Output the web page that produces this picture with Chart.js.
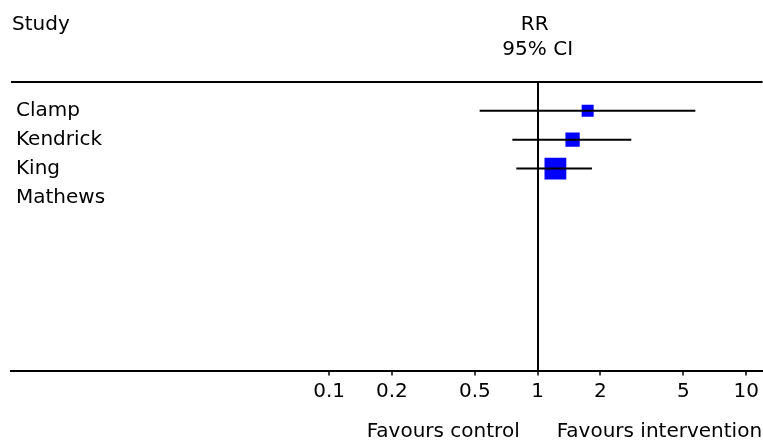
<!DOCTYPE html>
<html><head><meta charset="utf-8">
<script src="https://cdn.jsdelivr.net/npm/chart.js@4/dist/chart.umd.min.js"></script>
<style>html,body{margin:0;padding:0;background:#fff;}canvas{display:block;}</style>
</head><body>
<canvas id="c" width="763" height="443"></canvas>
<script>
// ---- data ----
const studies = ['Clamp', 'Kendrick', 'King', 'Mathews'];
const rr = [1.736, 1.47, 1.216, null];
const ciLow = [0.527, 0.756, 0.79, null];
const ciHigh = [5.70, 2.81, 1.82, null];
const weights = [17.5, 24.8, 57.7, null];
const xTicks = [0.1, 0.2, 0.5, 1, 2, 5, 10];
const xTickLabels = ['0.1', '0.2', '0.5', '1', '2', '5', '10'];
const headerStudy = 'Study';
const headerEffect = ['RR', '95% CI'];
const favourLeft = 'Favours control';
const favourRight = 'Favours intervention';
const rowSlots = 10;

// ---- build ----
const FONT = '"DejaVu Sans", sans-serif';
const rows = studies.map((s, i) => i + 1);
const ciDatasets = [];
studies.forEach((s, i) => {
  if (rr[i] == null) return;
  ciDatasets.push({
    type: 'scatter', label: s + ' CI', showLine: true,
    data: [{x: ciLow[i], y: rows[i]}, {x: ciHigh[i], y: rows[i]}],
    borderColor: '#000', borderWidth: 2, pointRadius: 0, order: 0
  });
});
const ptIdx = studies.map((s, i) => i).filter(i => rr[i] != null);
const boxRadius = ptIdx.map(i => 2.87 * Math.sqrt(weights[i]) / Math.SQRT2);
const pointDataset = {
  type: 'scatter', label: 'RR',
  data: ptIdx.map(i => ({x: rr[i], y: rows[i]})),
  pointStyle: 'rect',
  pointRadius: boxRadius,
  pointHoverRadius: boxRadius,
  backgroundColor: '#0000ff', borderWidth: 0, order: 1
};

const headerPlugin = {
  id: 'headers',
  afterDraw(chart) {
    const ctx = chart.ctx;
    const x1 = chart.scales.x.getPixelForValue(1);
    ctx.save();
    ctx.fillStyle = '#000';
    ctx.font = '20px ' + FONT;
    ctx.textBaseline = 'alphabetic';
    ctx.textAlign = 'left';
    ctx.fillText(headerStudy, 12, 29.5);
    ctx.textAlign = 'center';
    ctx.fillText(headerEffect[0], x1 - 3, 29.5);
    ctx.fillText(headerEffect[1], x1, 54.5);
    ctx.textAlign = 'right';
    ctx.fillText(favourLeft, x1 - 18, 437);
    ctx.textAlign = 'left';
    ctx.fillText(favourRight, x1 + 19, 437);
    ctx.restore();
  }
};

new Chart(document.getElementById('c'), {
  type: 'scatter',
  data: {datasets: [...ciDatasets, pointDataset]},
  options: {
    responsive: false, animation: false, devicePixelRatio: 1,
    layout: {padding: {top: 82, left: 1, right: 0, bottom: 35.5}, autoPadding: false},
    plugins: {legend: {display: false}, tooltip: {enabled: false}},
    events: [],
    scales: {
      x: {
        type: 'logarithmic', min: 0.002985, max: 11.97,
        afterBuildTicks: s => { s.ticks = xTicks.map(v => ({value: v})); },
        ticks: {
          callback: v => { const k = xTicks.indexOf(v); return k >= 0 ? xTickLabels[k] : ''; },
          autoSkip: false, maxRotation: 0, minRotation: 0,
          color: '#000', font: {family: FONT, size: 20}, padding: 4
        },
        grid: {
          color: c => (c.tick && c.tick.value === 1) ? '#000' : 'rgba(0,0,0,0)',
          lineWidth: 2, tickColor: '#000', tickLength: 5, tickWidth: 1.5
        },
        border: {display: true, color: '#000', width: 2}
      },
      y: {
        type: 'linear', reverse: true, min: 0, max: rowSlots,
        afterBuildTicks: s => { s.ticks = Array.from({length: rowSlots + 1}, (_, v) => ({value: v})); },
        ticks: {
          mirror: true, padding: 5, autoSkip: false,
          callback: v => studies[v - 1] || '',
          color: '#000', font: {family: FONT, size: 20}
        },
        grid: {
          drawTicks: false,
          color: c => (c.tick && c.tick.value === 0) ? '#000' : 'rgba(0,0,0,0)',
          lineWidth: 2
        },
        border: {display: false}
      }
    }
  },
  plugins: [headerPlugin]
});
</script>
</body></html>
